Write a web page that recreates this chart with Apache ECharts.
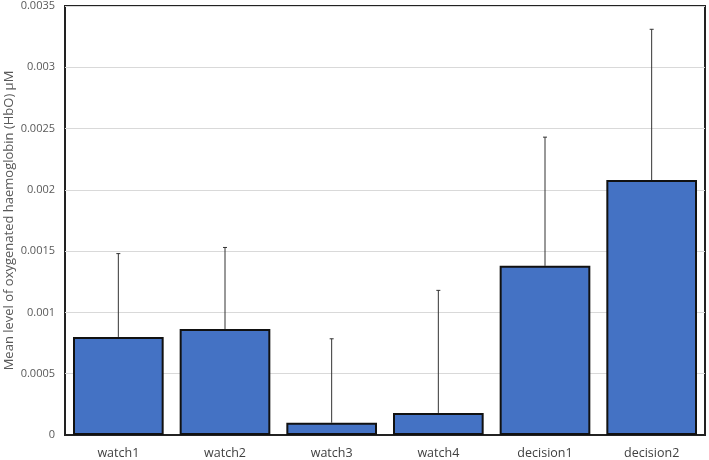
<!DOCTYPE html>
<html><head><meta charset="utf-8">
<script src="https://cdn.jsdelivr.net/npm/echarts@6/dist/echarts.min.js"></script>
<style>html,body{margin:0;padding:0;background:#fff}#c{width:709px;height:460px}</style>
</head><body><div id="c"></div>
<script>
const categories = ['watch1','watch2','watch3','watch4','decision1','decision2'];
const means = [0.00080, 0.000865, 0.000100, 0.000180, 0.00138, 0.00208];
const errors = [0.00068, 0.000665, 0.000685, 0.00100, 0.00105, 0.00123];
const yTicks = {min: 0, max: 0.0035, interval: 0.0005};

const chart = echarts.init(document.getElementById('c'));
chart.setOption({
  animation: false,
  grid: {left: 65, right: 4, top: 6, bottom: 25, show: true, borderColor: '#222', borderWidth: 2,
         containLabel: false, outerBoundsMode: 'none'},
  xAxis: {
    type: 'category', data: categories,
    axisLine: {lineStyle: {color: '#222', width: 2}},
    axisTick: {show: false},
    axisLabel: {color: '#404040', fontSize: 12.5, fontFamily: 'Open Sans', margin: 12}
  },
  yAxis: {
    type: 'value', min: yTicks.min, max: yTicks.max, interval: yTicks.interval,
    name: 'Mean level of oxygenated haemoglobin (HbO) µM',
    nameLocation: 'middle', nameGap: 49, nameMoveOverlap: false,
    nameTextStyle: {color: '#595959', fontSize: 13, fontFamily: 'Open Sans'},
    axisLine: {show: false}, axisTick: {show: false},
    axisLabel: {color: '#595959', fontSize: 11, fontFamily: 'Open Sans', margin: 10},
    splitLine: {lineStyle: {color: '#d9d9d9', width: 1}}
  },
  series: [
    {
      type: 'bar', data: means, barCategoryGap: '15%',
      itemStyle: {color: '#4472C4', borderColor: '#111', borderWidth: 2}
    },
    {
      type: 'custom', z: 5,
      data: means.map((m, i) => [i, m, m + errors[i]]),
      renderItem: function (params, api) {
        const x = api.value(0);
        const p0 = api.coord([x, api.value(1)]);
        const p1 = api.coord([x, api.value(2)]);
        return {type: 'group', children: [
          {type: 'line', shape: {x1: p0[0], y1: p0[1], x2: p1[0], y2: p1[1]}, style: {stroke: '#333', lineWidth: 1}},
          {type: 'line', shape: {x1: p1[0] - 2, y1: p1[1], x2: p1[0] + 2, y2: p1[1]}, style: {stroke: '#333', lineWidth: 1}}
        ]};
      }
    }
  ]
});
</script></body></html>
